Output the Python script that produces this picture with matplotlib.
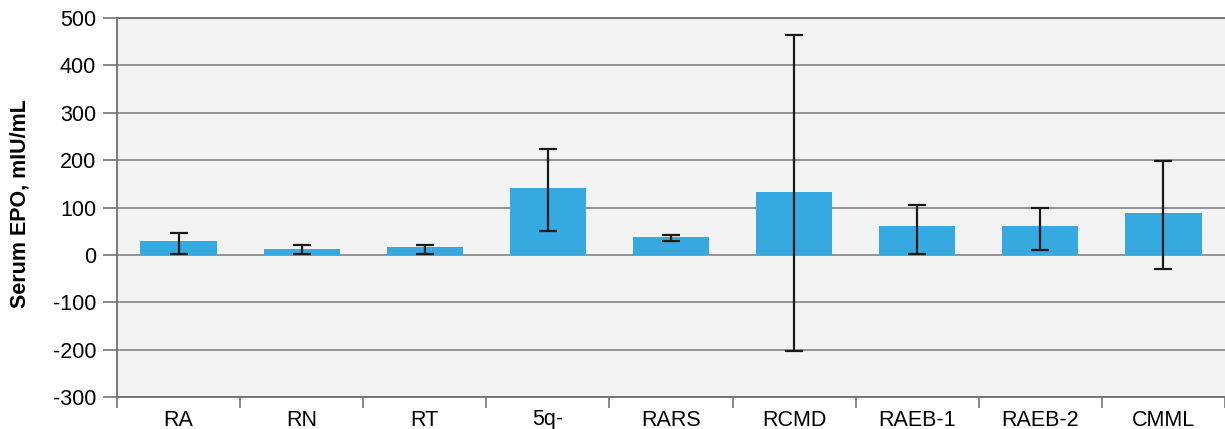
import numpy as np
import matplotlib
matplotlib.use('Agg')
import matplotlib.pyplot as plt

plt.rcParams['font.family'] = ['Liberation Sans', 'DejaVu Sans']
plt.rcParams['axes.unicode_minus'] = False

categories = ['RA', 'RN', 'RT', '5q-', 'RARS', 'RCMD', 'RAEB-1', 'RAEB-2', 'CMML']
epo_mean = [30, 13, 17, 141, 38, 133, 61, 61, 89]
err_high = [47, 20, 21, 224, 43, 465, 105, 100, 198]
err_low = [2, 2, 2, 51, 29, -202, 2, 11, -29]

mean = np.array(epo_mean)
yerr = [mean - np.array(err_low), np.array(err_high) - mean]
x = np.arange(len(categories))

fig = plt.figure(figsize=(12.25, 4.29), dpi=100)
ax = fig.add_axes([117 / 1225, 32 / 429, 1108 / 1225, 379 / 429])
ax.set_facecolor('#f3f3f3')

ax.bar(x, mean, width=0.62, color='#36a9e0', zorder=3)
ax.errorbar(x, mean, yerr=yerr, fmt='none', ecolor='#1a1a1a', elinewidth=1.6,
            capsize=6.5, capthick=1.6, zorder=4)

ax.set_xlim(-0.5, len(categories) - 0.5)
ax.set_ylim(-300, 500)
ax.set_yticks(np.arange(-300, 501, 100))
ax.yaxis.grid(True, color='#8c8c8c', linewidth=1.3, zorder=0)

ax.set_xticks(x)
ax.set_xticklabels(categories, fontsize=15.5)
ax.set_xticks(np.arange(-0.5, len(categories), 1), minor=True)
ax.tick_params(axis='x', which='major', length=0, pad=9)
ax.tick_params(axis='x', which='minor', length=8, width=1.3, color='#7f7f7f', direction='out')
ax.tick_params(axis='y', length=10, width=1.3, color='#7f7f7f', labelsize=15.5, pad=5)

ax.spines['right'].set_visible(False)
for side in ['left', 'bottom', 'top']:
    ax.spines[side].set_color('#6f6f6f')
    ax.spines[side].set_linewidth(1.3)

ax.set_ylabel('Serum EPO, mIU/mL', fontsize=15.5, fontweight='bold')
ax.yaxis.set_label_coords(-0.078, 0.51)

fig.savefig('out.png', dpi=100)
